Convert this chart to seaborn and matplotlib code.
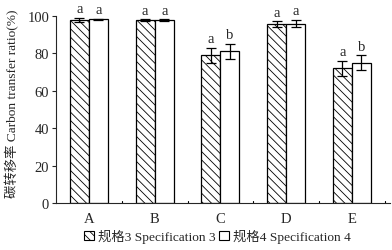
import matplotlib
matplotlib.use("Agg")
import matplotlib.pyplot as plt
import seaborn as sns
import pandas as pd
import numpy as np
from matplotlib.patches import Patch

categories = ["A", "B", "C", "D", "E"]
spec3_vals = [97.8, 97.6, 78.9, 95.5, 72.0]
spec4_vals = [98.1, 97.6, 81.2, 95.9, 74.9]
spec3_err = [1.0, 0.5, 4.0, 1.5, 4.0]
spec4_err = [0.4, 0.5, 4.0, 1.8, 4.0]
spec3_sig = ["a", "a", "a", "a", "a"]
spec4_sig = ["a", "a", "b", "a", "b"]
series_names = ["规格3 Specification 3", "规格4 Specification 4"]
yticks = [0, 20, 40, 60, 80, 100]

sns.set_style("ticks")
plt.rcParams["font.family"] = ["Liberation Serif", "Noto Sans CJK SC"]
plt.rcParams["hatch.linewidth"] = 0.6
plt.rcParams["font.size"] = 10.5

df = pd.DataFrame({
    "cat": categories * 2,
    "val": spec3_vals + spec4_vals,
    "series": [series_names[0]] * 5 + [series_names[1]] * 5,
})

fig = plt.figure(figsize=(3.92, 2.51), dpi=100)
ax = fig.add_axes([0.143, 0.186, 0.852, 0.747])
sns.barplot(data=df, x="cat", y="val", hue="series", order=categories,
            hue_order=series_names, palette=["white", "white"], width=0.58,
            errorbar=None, edgecolor="black", linewidth=0.9, ax=ax, legend=False)

bars = ax.patches
errs = spec3_err + spec4_err
sigs = spec3_sig + spec4_sig
for i, b in enumerate(bars[:10]):
    if i < 5:
        b.set_hatch("\\\\\\\\")
    cx = b.get_x() + b.get_width() / 2
    h = b.get_height()
    ax.errorbar(cx, h, yerr=errs[i], color="black", capsize=3.5,
                elinewidth=0.9, capthick=0.9, fmt="none")
    ax.text(cx, h + errs[i] + 1.5, sigs[i], ha="center", va="bottom", fontsize=10.5)

ax.set_ylim(0, 100)
ax.set_xlim(-0.5, 4.58)
ax.set_yticks(yticks)
ax.set_yticklabels([str(t) for t in yticks], fontsize=10.5)
ax.set_xticks(range(len(categories)))
ax.set_xticklabels(categories, fontsize=10.5)
ax.tick_params(axis="x", length=0, pad=6)
ax.tick_params(axis="y", direction="out", length=3, width=0.8, pad=2)
for b in np.arange(0.5, 5.0, 1.0):
    ax.plot([b, b], [0, 1.2], color="black", lw=0.8, clip_on=False)
ax.set_xlabel("")
ax.set_ylabel("碳转移率 Carbon transfer ratio(%)", fontsize=9.6)
ax.yaxis.set_label_coords(-0.11, 0.535)
sns.despine(ax=ax)
for s in ["left", "bottom"]:
    ax.spines[s].set_linewidth(0.8)

handles = [Patch(facecolor="white", edgecolor="black", hatch="\\\\\\\\", lw=0.8),
           Patch(facecolor="white", edgecolor="black", lw=0.8)]
fig.legend(handles, series_names, loc="center", bbox_to_anchor=(0.555, 0.055),
           ncol=2, frameon=False, fontsize=9.6, handlelength=0.7, handleheight=0.7,
           handletextpad=0.3, columnspacing=0.3, borderpad=0)

fig.savefig("out.png", dpi=100)
